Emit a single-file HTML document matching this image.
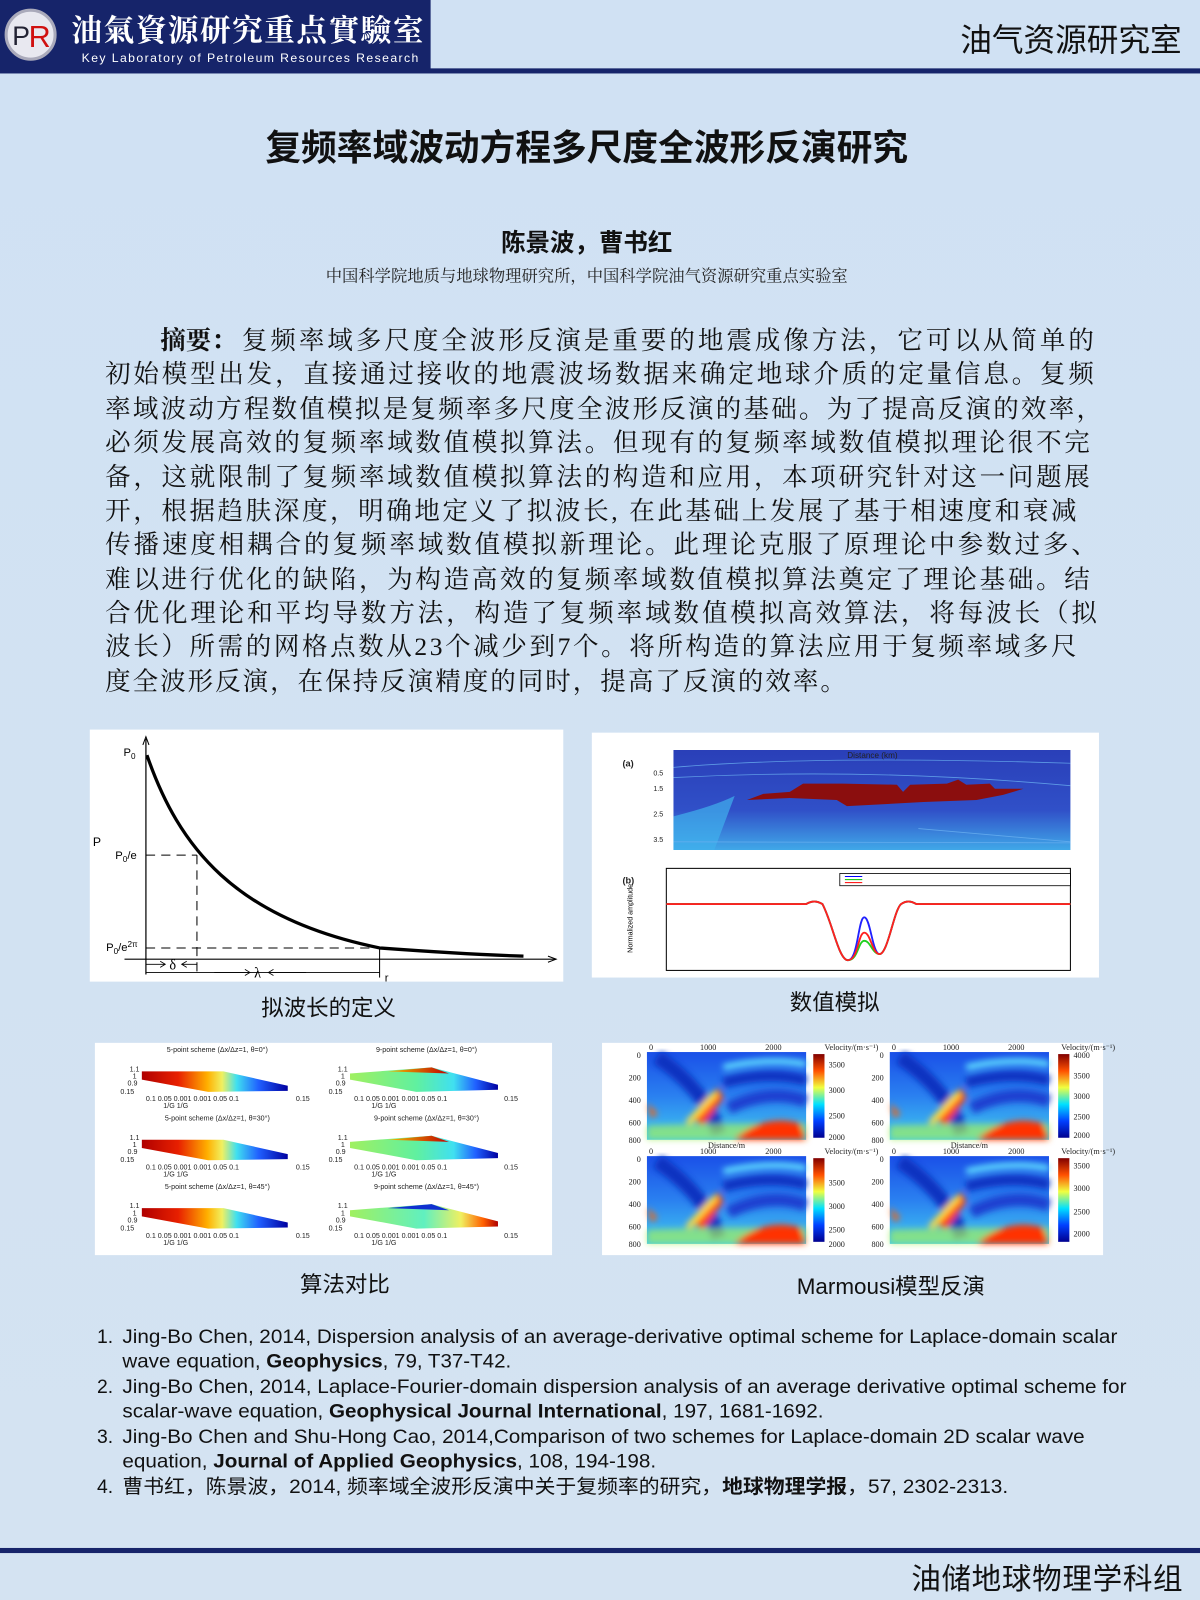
<!DOCTYPE html>
<html><head><meta charset="utf-8"><style>
html,body{margin:0;padding:0;background:#d2e2f2;}
svg{display:block}
</style></head><body>
<svg xmlns="http://www.w3.org/2000/svg" width="1200" height="1600" viewBox="0 0 1176 1568">
<defs>
<linearGradient id="bg" x1="0" y1="0" x2="0" y2="1"><stop offset="0" stop-color="#d0e1f3"/><stop offset="1" stop-color="#d4e3f2"/></linearGradient>
<linearGradient id="s5" x1="0" y1="0" x2="1" y2="0"><stop offset="0" stop-color="#b00000"/><stop offset="0.25" stop-color="#e82000"/><stop offset="0.45" stop-color="#ffb000"/><stop offset="0.55" stop-color="#f0f060"/><stop offset="0.65" stop-color="#40e0f0"/><stop offset="0.8" stop-color="#2060ff"/><stop offset="1" stop-color="#0000a0"/></linearGradient>
<linearGradient id="s9" x1="0" y1="0" x2="1" y2="0"><stop offset="0" stop-color="#a0f060"/><stop offset="0.45" stop-color="#60f0a0"/><stop offset="0.7" stop-color="#40e0f0"/><stop offset="0.85" stop-color="#2060ff"/><stop offset="1" stop-color="#0000a0"/></linearGradient>
<linearGradient id="s9b" x1="0" y1="0" x2="1" y2="0"><stop offset="0" stop-color="#a0f060"/><stop offset="0.5" stop-color="#60f0c0"/><stop offset="0.75" stop-color="#f0f060"/><stop offset="0.9" stop-color="#ff6000"/><stop offset="1" stop-color="#b00000"/></linearGradient>
<linearGradient id="s9t" x1="0" y1="0" x2="1" y2="0"><stop offset="0" stop-color="#f0c000"/><stop offset="1" stop-color="#c00000"/></linearGradient>
<linearGradient id="cb" x1="0" y1="1" x2="0" y2="0"><stop offset="0" stop-color="#00008f"/><stop offset="0.2" stop-color="#0040ff"/><stop offset="0.4" stop-color="#00e0ff"/><stop offset="0.6" stop-color="#f0ff40"/><stop offset="0.8" stop-color="#ff5000"/><stop offset="1" stop-color="#800000"/></linearGradient>
<linearGradient id="fa" x1="0" y1="0" x2="0" y2="1"><stop offset="0" stop-color="#2a3fb8"/><stop offset="0.6" stop-color="#3050c8"/><stop offset="1" stop-color="#40a8e8"/></linearGradient>
<linearGradient id="mb" x1="0" y1="0" x2="0" y2="1"><stop offset="0" stop-color="#1a50e8"/><stop offset="0.5" stop-color="#2a80f0"/><stop offset="1" stop-color="#40c8f0"/></linearGradient>
<filter id="bl"><feGaussianBlur stdDeviation="3"/></filter>
<g id="marm">
<rect x="0" y="0" width="156" height="86" fill="url(#mb)"/>
<g filter="url(#bl)">
<path d="M10,5 Q60,40 70,80" stroke="#0a30c0" stroke-width="14" fill="none"/>
<path d="M75,15 Q120,5 156,12" stroke="#60e0ff" stroke-width="6" fill="none"/>
<path d="M75,30 Q120,18 156,28" stroke="#0a30c0" stroke-width="10" fill="none"/>
<path d="M80,55 Q120,35 156,48" stroke="#1a40d0" stroke-width="12" fill="none"/>
<path d="M45,65 L70,35 L75,45 L55,72 Z" fill="#ff4010"/>
<path d="M40,70 L68,40" stroke="#ffe040" stroke-width="6"/>
<path d="M0,50 L10,60 L5,65 Z" fill="#ff6000"/>
<path d="M0,72 Q60,70 156,70 L156,86 L0,86 Z" fill="#a0f060" opacity="0.7"/>
<path d="M85,86 Q115,60 150,70 L156,86 Z" fill="#ff3000"/>
</g>
</g>
</defs>
<rect width="1176" height="1568" fill="url(#bg)"/>
<!-- header -->
<rect x="0" y="0" width="422" height="68" fill="#16246a"/>
<circle cx="30" cy="34" r="24" fill="#e8e8f0" stroke="#aab" stroke-width="3"/>
<text x="12" y="44" font-family="Liberation Sans,sans-serif" font-size="26" fill="#223">P</text>
<text x="28" y="46" font-family="Liberation Sans,sans-serif" font-size="30" fill="#d01010">R</text>
<text x="70" y="40" font-family="Liberation Serif,'Noto Serif CJK SC',serif" font-size="30" font-weight="bold" fill="#fff" textLength="345">油氣資源研究重点實驗室</text>
<text x="80" y="61" font-family="Liberation Sans,sans-serif" font-size="12" fill="#fff" textLength="330">Key  Laboratory  of  Petroleum  Resources  Research</text>
<rect x="0" y="67" width="1176" height="5" fill="#16246a"/>
<text x="1158" y="50" text-anchor="end" font-family="Liberation Sans,'Noto Sans CJK SC',sans-serif" font-size="31" fill="#111">油气资源研究室</text>
<!-- title -->
<text x="575" y="157" text-anchor="middle" font-family="Liberation Sans,'Noto Sans CJK SC',sans-serif" font-size="35" font-weight="bold" fill="#111">复频率域波动方程多尺度全波形反演研究</text>
<text x="575" y="246" text-anchor="middle" font-family="Liberation Sans,'Noto Sans CJK SC',sans-serif" font-size="24" font-weight="bold" fill="#111">陈景波，曹书红</text>
<text x="575" y="276" text-anchor="middle" font-family="Liberation Serif,'Noto Serif CJK SC',serif" font-size="16" fill="#222">中国科学院地质与地球物理研究所，中国科学院油气资源研究重点实验室</text>
<!-- abstract -->
<g font-family="Liberation Serif,'Noto Serif CJK SC',serif" font-size="25" fill="#111">
<text x="157" y="342" font-weight="bold">摘要：</text>
<text x="237" y="342" textLength="835">复频率域多尺度全波形反演是重要的地震成像方法，它可以从简单的</text>
<text x="103" y="375" textLength="969">初始模型出发，直接通过接收的地震波场数据来确定地球介质的定量信息。复频</text>
<text x="103" y="409" textLength="977">率域波动方程数值模拟是复频率多尺度全波形反演的基础。为了提高反演的效率，</text>
<text x="103" y="442" textLength="965">必须发展高效的复频率域数值模拟算法。但现有的复频率域数值模拟理论很不完</text>
<text x="103" y="476" textLength="965">备，这就限制了复频率域数值模拟算法的构造和应用，本项研究针对这一问题展</text>
<text x="103" y="509" textLength="952">开，根据趋肤深度，明确地定义了拟波长, 在此基础上发展了基于相速度和衰减</text>
<text x="103" y="542" textLength="972">传播速度相耦合的复频率域数值模拟新理论。此理论克服了原理论中参数过多、</text>
<text x="103" y="576" textLength="965">难以进行优化的缺陷，为构造高效的复频率域数值模拟算法奠定了理论基础。结</text>
<text x="103" y="609" textLength="972">合优化理论和平均导数方法，构造了复频率域数值模拟高效算法，将每波长（拟</text>
<text x="103" y="642" textLength="952">波长）所需的网格点数从23个减少到7个。将所构造的算法应用于复频率域多尺</text>
<text x="103" y="676" textLength="726">度全波形反演，在保持反演精度的同时，提高了反演的效率。</text>
</g>
<!-- fig1 -->
<rect x="88" y="715" width="464" height="247" fill="#fff"/>
<g stroke="#000" fill="none">
<line x1="143" y1="955" x2="143" y2="724" stroke-width="1.2"/>
<path d="M140,730 L143,722 L146,730" stroke-width="1"/>
<line x1="122" y1="940" x2="545" y2="940" stroke-width="1.2"/>
<path d="M537,937 L545,940 L537,943" stroke-width="1"/>
<path d="M144,740 C175,830 230,900 372,929 C440,934 480,936 513,937" stroke-width="3.2"/>
<g stroke-dasharray="9,6" stroke-width="1"><line x1="143" y1="838" x2="193" y2="838"/><line x1="193" y1="838" x2="193" y2="952"/><line x1="143" y1="929" x2="372" y2="929"/></g>
<line x1="372" y1="929" x2="372" y2="958" stroke-width="1"/>
<line x1="143" y1="953" x2="372" y2="953" stroke-width="0.8"/>
<path d="M143,945 L162,945 M157,942 L162,945 L157,948 M193,945 L178,945 M183,942 L178,945 L183,948 M210,953 L245,953 M240,950 L245,953 L240,956 M263,953 L300,953 M268,950 L263,953 L268,956" stroke-width="0.8"/>
</g>
<g font-family="Liberation Sans,sans-serif" font-size="11" fill="#000">
<text x="121" y="741">P<tspan font-size="8" dy="3">0</tspan></text>
<text x="91" y="829" font-size="12">P</text>
<text x="113" y="842">P<tspan font-size="8" dy="3">0</tspan><tspan dy="-3">/e</tspan></text>
<text x="104" y="932">P<tspan font-size="8" dy="3">0</tspan><tspan dy="-3">/e</tspan><tspan font-size="8" dy="-4">2π</tspan></text>
<text x="166" y="950" font-family="Liberation Serif,serif" font-size="14">δ</text>
<text x="249" y="958" font-family="Liberation Serif,serif" font-size="14">λ</text>
<text x="377" y="962">r</text>
</g>
<text x="322" y="995" text-anchor="middle" font-family="Liberation Sans,'Noto Sans CJK SC',sans-serif" font-size="22" fill="#111">拟波长的定义</text>
<!-- fig2 -->
<rect x="580" y="718" width="497" height="240" fill="#fff"/>
<rect x="660" y="735" width="389" height="98" fill="url(#fa)"/>
<path d="M660,800 Q700,790 720,780 L700,833 L660,833 Z" fill="#40b0ec" opacity="0.7"/>
<g stroke="#6ab0f0" stroke-width="0.8" fill="none" opacity="0.8"><path d="M660,752 Q800,740 1049,748"/><path d="M660,762 Q850,752 1049,770"/><path d="M900,812 L1049,825"/><path d="M660,825 L1049,826"/></g>
<path d="M732,784 L748,778 L774,776 L787,768 L826,768 L879,769 L885,776 L892,769 L928,768 L939,764 L947,769 L970,768 L975,773 L1003,773 L983,779 L957,784 L905,786 L830,790 L820,784 L774,782 Z" fill="#8b0e0e"/>
<g font-family="Liberation Sans,sans-serif" font-size="7" fill="#222">
<text x="610" y="751" font-size="9" font-weight="bold">(a)</text>
<text x="855" y="743" text-anchor="middle" font-size="8">Distance (km)</text>
<text x="650" y="760" text-anchor="end">0.5</text><text x="650" y="775" text-anchor="end">1.5</text><text x="650" y="800" text-anchor="end">2.5</text><text x="650" y="825" text-anchor="end">3.5</text>
<text x="610" y="866" font-size="9" font-weight="bold">(b)</text>
<text x="855" y="862" text-anchor="middle" font-size="8">Offset (km)</text>
</g>
<rect x="653" y="851" width="396" height="100" fill="none" stroke="#000" stroke-width="1"/>
<rect x="823" y="856" width="226" height="12" fill="#fff" stroke="#000" stroke-width="0.8"/>
<line x1="828" y1="859" x2="845" y2="859" stroke="#0000ff"/><line x1="828" y1="862" x2="845" y2="862" stroke="#00c000"/><line x1="828" y1="865" x2="845" y2="865" stroke="#ff0000"/>
<g fill="none" stroke-width="1.8">
<path d="M653,886 L790,886 Q798,881 806,886 C816,905 822,941 831,941 C841,941 841,899 847,899 C853,899 855,935 862,935 C870,935 876,892 883,886 Q890,881 898,886 L1049,886" stroke="#2020ff"/>
<path d="M653,886 L790,886 Q798,881 806,886 C816,905 822,941 831,941 C841,941 841,922 847,922 C853,922 855,935 862,935 C870,935 876,892 883,886 Q890,881 898,886 L1049,886" stroke="#20d020"/>
<path d="M653,886 L790,886 Q798,881 806,886 C816,905 822,941 831,941 C841,941 841,914 847,914 C853,914 855,935 862,935 C870,935 876,892 883,886 Q890,881 898,886 L1049,886" stroke="#ff2020"/>
</g>
<text x="620" y="900" transform="rotate(-90 620 900)" text-anchor="middle" font-family="Liberation Sans,sans-serif" font-size="7">Normalized amplitude</text>
<text x="818" y="990" text-anchor="middle" font-family="Liberation Sans,'Noto Sans CJK SC',sans-serif" font-size="22" fill="#111">数值模拟</text>
<!-- fig3 -->
<rect x="93" y="1022" width="448" height="208" fill="#fff"/>
<g font-family="Liberation Sans,sans-serif" font-size="7" fill="#222">
<text x="213" y="1031" text-anchor="middle">5-point scheme (Δx/Δz=1, θ=0°)</text>
<text x="418" y="1031" text-anchor="middle">9-point scheme (Δx/Δz=1, θ=0°)</text>
<polygon points="139,1050 219,1050 282,1064 282,1069 204,1070 139,1058" fill="url(#s5)"/>
<polygon points="343,1052 423,1046 488,1063 488,1068 408,1070 343,1058" fill="url(#s9)"/>
<polygon points="380,1050 423,1046 440,1052" fill="url(#s9t)"/>
<text x="127" y="1050">1.1</text><text x="130" y="1057">1</text><text x="125" y="1064">0.9</text><text x="118" y="1072">0.15</text>
<text x="331" y="1050">1.1</text><text x="334" y="1057">1</text><text x="329" y="1064">0.9</text><text x="322" y="1072">0.15</text>
<text x="143" y="1079">0.1  0.05 0.001  0.001 0.05  0.1</text><text x="290" y="1079">0.15</text>
<text x="347" y="1079">0.1  0.05 0.001  0.001 0.05  0.1</text><text x="494" y="1079">0.15</text>
<text x="160" y="1086">1/G   1/G</text><text x="364" y="1086">1/G   1/G</text>
<text x="213" y="1098" text-anchor="middle">5-point scheme (Δx/Δz=1, θ=30°)</text>
<text x="418" y="1098" text-anchor="middle">9-point scheme (Δx/Δz=1, θ=30°)</text>
<polygon points="139,1117 219,1117 282,1131 282,1136 204,1137 139,1125" fill="url(#s5)"/>
<polygon points="343,1119 423,1113 488,1130 488,1135 408,1137 343,1125" fill="url(#s9)"/>
<polygon points="380,1117 423,1113 440,1119" fill="url(#s9t)"/>
<text x="127" y="1117">1.1</text><text x="130" y="1124">1</text><text x="125" y="1131">0.9</text><text x="118" y="1139">0.15</text>
<text x="331" y="1117">1.1</text><text x="334" y="1124">1</text><text x="329" y="1131">0.9</text><text x="322" y="1139">0.15</text>
<text x="143" y="1146">0.1  0.05 0.001  0.001 0.05  0.1</text><text x="290" y="1146">0.15</text>
<text x="347" y="1146">0.1  0.05 0.001  0.001 0.05  0.1</text><text x="494" y="1146">0.15</text>
<text x="160" y="1153">1/G   1/G</text><text x="364" y="1153">1/G   1/G</text>
<text x="213" y="1165" text-anchor="middle">5-point scheme (Δx/Δz=1, θ=45°)</text>
<text x="418" y="1165" text-anchor="middle">9-point scheme (Δx/Δz=1, θ=45°)</text>
<polygon points="139,1184 219,1184 282,1198 282,1203 204,1204 139,1192" fill="url(#s5)"/>
<polygon points="343,1186 423,1180 488,1197 488,1202 408,1204 343,1192" fill="url(#s9b)"/>
<polygon points="380,1184 423,1180 440,1186" fill="#1030d0"/>
<text x="127" y="1184">1.1</text><text x="130" y="1191">1</text><text x="125" y="1198">0.9</text><text x="118" y="1206">0.15</text>
<text x="331" y="1184">1.1</text><text x="334" y="1191">1</text><text x="329" y="1198">0.9</text><text x="322" y="1206">0.15</text>
<text x="143" y="1213">0.1  0.05 0.001  0.001 0.05  0.1</text><text x="290" y="1213">0.15</text>
<text x="347" y="1213">0.1  0.05 0.001  0.001 0.05  0.1</text><text x="494" y="1213">0.15</text>
<text x="160" y="1220">1/G   1/G</text><text x="364" y="1220">1/G   1/G</text>
</g>
<text x="338" y="1266" text-anchor="middle" font-family="Liberation Sans,'Noto Sans CJK SC',sans-serif" font-size="22" fill="#111">算法对比</text>
<!-- fig4 -->
<rect x="590" y="1022" width="491" height="208" fill="#fff"/>
<use href="#marm" x="634" y="1031"/>
<use href="#marm" x="872" y="1031"/>
<use href="#marm" x="634" y="1133"/>
<use href="#marm" x="872" y="1133"/>
<rect x="797" y="1033" width="11" height="82" fill="url(#cb)"/>
<rect x="1037" y="1033" width="11" height="82" fill="url(#cb)"/>
<rect x="797" y="1135" width="11" height="82" fill="url(#cb)"/>
<rect x="1037" y="1135" width="11" height="82" fill="url(#cb)"/>
<g font-family="Liberation Serif,serif" font-size="8" fill="#222">
<text x="636" y="1029">0</text><text x="686" y="1029">1000</text><text x="750" y="1029">2000</text><text x="808" y="1029">Velocity/(m·s⁻¹)</text>
<text x="874" y="1029">0</text><text x="924" y="1029">1000</text><text x="988" y="1029">2000</text><text x="1040" y="1029">Velocity/(m·s⁻¹)</text>
<text x="636" y="1131">0</text><text x="686" y="1131">1000</text><text x="750" y="1131">2000</text><text x="808" y="1131">Velocity/(m·s⁻¹)</text>
<text x="874" y="1131">0</text><text x="924" y="1131">1000</text><text x="988" y="1131">2000</text><text x="1040" y="1131">Velocity/(m·s⁻¹)</text>
<text x="712" y="1125" text-anchor="middle">Distance/m</text><text x="950" y="1125" text-anchor="middle">Distance/m</text>
<g text-anchor="end"><text x="628" y="1037">0</text><text x="628" y="1059">200</text><text x="628" y="1081">400</text><text x="628" y="1103">600</text><text x="628" y="1120">800</text>
<text x="866" y="1037">0</text><text x="866" y="1059">200</text><text x="866" y="1081">400</text><text x="866" y="1103">600</text><text x="866" y="1120">800</text>
<text x="628" y="1139">0</text><text x="628" y="1161">200</text><text x="628" y="1183">400</text><text x="628" y="1205">600</text><text x="628" y="1222">800</text>
<text x="866" y="1139">0</text><text x="866" y="1161">200</text><text x="866" y="1183">400</text><text x="866" y="1205">600</text><text x="866" y="1222">800</text></g>
<text x="812" y="1046">3500</text><text x="812" y="1071">3000</text><text x="812" y="1096">2500</text><text x="812" y="1117">2000</text>
<text x="1052" y="1037">4000</text><text x="1052" y="1057">3500</text><text x="1052" y="1077">3000</text><text x="1052" y="1097">2500</text><text x="1052" y="1115">2000</text>
<text x="812" y="1162">3500</text><text x="812" y="1185">3000</text><text x="812" y="1208">2500</text><text x="812" y="1222">2000</text>
<text x="1052" y="1145">3500</text><text x="1052" y="1167">3000</text><text x="1052" y="1190">2500</text><text x="1052" y="1212">2000</text>
</g>
<text x="873" y="1268" text-anchor="middle" font-family="Liberation Sans,'Noto Sans CJK SC',sans-serif" font-size="22" fill="#111">Marmousi模型反演</text>
<!-- refs -->
<g font-family="Liberation Sans,'Noto Sans CJK SC',sans-serif" font-size="19" fill="#111">
<text x="95" y="1316">1.</text><text x="120" y="1316" textLength="975" lengthAdjust="spacingAndGlyphs">Jing-Bo Chen, 2014, Dispersion analysis of an average-derivative optimal scheme for Laplace-domain scalar</text>
<text x="120" y="1340" textLength="381" lengthAdjust="spacingAndGlyphs">wave equation, <tspan font-weight="bold">Geophysics</tspan>, 79, T37-T42.</text>
<text x="95" y="1365">2.</text><text x="120" y="1365" textLength="984" lengthAdjust="spacingAndGlyphs">Jing-Bo Chen, 2014, Laplace-Fourier-domain dispersion analysis of an average derivative optimal scheme for</text>
<text x="120" y="1389" textLength="687" lengthAdjust="spacingAndGlyphs">scalar-wave equation, <tspan font-weight="bold">Geophysical Journal International</tspan>, 197, 1681-1692.</text>
<text x="95" y="1414">3.</text><text x="120" y="1414" textLength="943" lengthAdjust="spacingAndGlyphs">Jing-Bo Chen and Shu-Hong Cao, 2014,Comparison of two schemes for Laplace-domain 2D scalar wave</text>
<text x="120" y="1438" textLength="523" lengthAdjust="spacingAndGlyphs">equation, <tspan font-weight="bold">Journal of Applied Geophysics</tspan>, 108, 194-198.</text>
<text x="95" y="1463">4.</text><text x="120" y="1463" textLength="868" lengthAdjust="spacingAndGlyphs">曹书红，陈景波，2014, 频率域全波形反演中关于复频率的研究，<tspan font-weight="bold">地球物理学报</tspan>，57, 2302-2313.</text>
</g>
<!-- footer -->
<rect x="0" y="1517" width="1176" height="5" fill="#16246a"/>
<text x="1159" y="1557" text-anchor="end" font-family="Liberation Sans,'Noto Sans CJK SC',sans-serif" font-size="29" fill="#111" textLength="266">油储地球物理学科组</text>
</svg>
</body></html>
